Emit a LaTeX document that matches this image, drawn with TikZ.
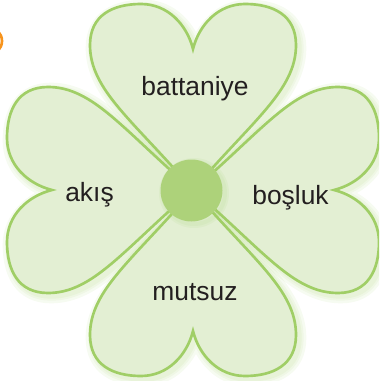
\documentclass[tikz,border=0pt]{standalone}
\usepackage{fontspec}
\setmainfont{Liberation Sans}
\definecolor{petalfill}{HTML}{E3EFD3}
\definecolor{petalline}{HTML}{A0CE66}
\definecolor{centerfill}{HTML}{ADD27A}
\definecolor{ringorange}{HTML}{F7941D}
\definecolor{textcol}{HTML}{231F20}
\tikzset{
  petaltext/.style={text=textcol, font=\fontsize{19.8}{24}\selectfont, inner sep=0pt, anchor=base},
  glow/.style={draw=petalline, line join=round, opacity=0.09},
}
\newcommand{\heartpath}{(0,0) .. controls (-60,-70) and (-103,-100) .. (-103,-145)
  .. controls (-103,-175) and (-80,-186) .. (-52,-186)
  .. controls (-25,-186) and (-6,-165) .. (0,-141)
  .. controls (6,-165) and (25,-186) .. (52,-186)
  .. controls (80,-186) and (103,-175) .. (103,-145)
  .. controls (103,-100) and (60,-70) .. (0,0) -- cycle}
\begin{document}
\begin{tikzpicture}[x=0.75pt,y=-0.75pt]
\useasboundingbox (0,0) rectangle (379,381);
\clip (0,0) rectangle (379,381);
% orange ring fragment at the left edge
\draw[ringorange, line width=2pt] (-12,41) circle (14);
% soft glow of the petals
\foreach \a in {0,90,180,270}{
  \begin{scope}[shift={(196,193)}, rotate=\a]
    \foreach \w in {11pt,7pt,4pt}{
      \draw[glow, line width=\w] \heartpath;
    }
  \end{scope}
}
% petal fills
\foreach \a in {0,90,180,270}{
  \begin{scope}[shift={(193,190)}, rotate=\a]
    \fill[petalfill] \heartpath;
  \end{scope}
}
% petal outlines
\foreach \a in {0,90,180,270}{
  \begin{scope}[shift={(193,190)}, rotate=\a]
    \draw[petalline, line width=2pt, line join=miter] \heartpath;
  \end{scope}
}
% centre
\foreach \w in {6pt,3pt}{
  \draw[glow, line width=\w] (194,193) circle (31);
}
\fill[centerfill] (191.5,190.5) circle (31);
\node[petaltext] (battaniye) at (195,95.7) {battaniye};
\node[petaltext] (akis) at (89.5,201.7) {akış};
\node[petaltext] (bosluk) at (290.5,204) {boşluk};
\node[petaltext] (mutsuz) at (195,300) {mutsuz};
\end{tikzpicture}
\end{document}
